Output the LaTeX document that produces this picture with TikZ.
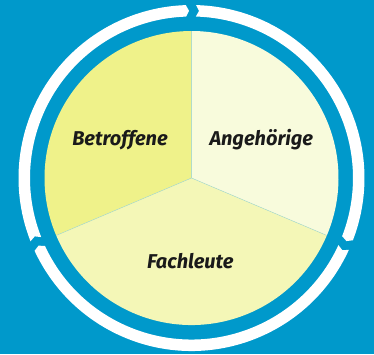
\documentclass[tikz,border=0pt]{standalone}
\usepackage{fontspec}
\setmainfont{Fira Sans}
\definecolor{bgblue}{HTML}{0099CB}
\definecolor{secA}{HTML}{EFF28A}
\definecolor{secB}{HTML}{F8FBDC}
\definecolor{secC}{HTML}{F4F7B7}
\definecolor{sepline}{HTML}{B0DCC8}
\definecolor{txt}{HTML}{1A1A1A}
\newcommand\ringseg[2]{%
 \fill[white] ({#1-1.544}:173pt) arc[start angle={#1-1.544}, end angle={#2+1.887}, radius=173pt]
   -- ({#2+0.858}:167.25pt) -- ({#2+1.887}:161.5pt)
   arc[start angle={#2+1.887}, end angle={#1-1.544}, radius=161.5pt]
   -- ({#1-2.573}:167.25pt) -- cycle;}
\begin{document}
\begin{tikzpicture}[
  lbl/.style={font=\fontsize{20}{24}\selectfont\bfseries\itshape, text=txt, anchor=base, inner sep=0pt},
  sep/.style={draw=sepline, line width=0.5pt}]
\fill[bgblue] (-191.5pt,-176pt) rectangle (182.5pt,178pt);
\useasboundingbox (-191.5pt,-176pt) rectangle (182.5pt,178pt);
% pie sectors
\fill[secA] (0,0) -- (90:147pt) arc[start angle=90, end angle=203, radius=147pt] -- cycle;
\fill[secC] (0,0) -- (203:147pt) arc[start angle=203, end angle=337, radius=147pt] -- cycle;
\fill[secB] (0,0) -- (-23:147pt) arc[start angle=-23, end angle=90, radius=147pt] -- cycle;
\coordinate (c) at (0,0);
\coordinate (b1) at (90:147pt);
\coordinate (b2) at (203:147pt);
\coordinate (b3) at (337:147pt);
\draw[sep] (c) -- (b1);
\draw[sep] (c) -- (b2);
\draw[sep] (c) -- (b3);
% ring of arrows
\ringseg{90}{-23}
\ringseg{-23}{-157}
\ringseg{203}{90}
% labels
\node[lbl] (betroffene) at (-71.5pt,32.3pt) {Betroffene};
\node[lbl] (angehoerige) at (69.8pt,32.3pt) {Angehörige};
\node[lbl] (fachleute) at (-1.2pt,-90.3pt) {Fachleute};
\end{tikzpicture}
\end{document}
